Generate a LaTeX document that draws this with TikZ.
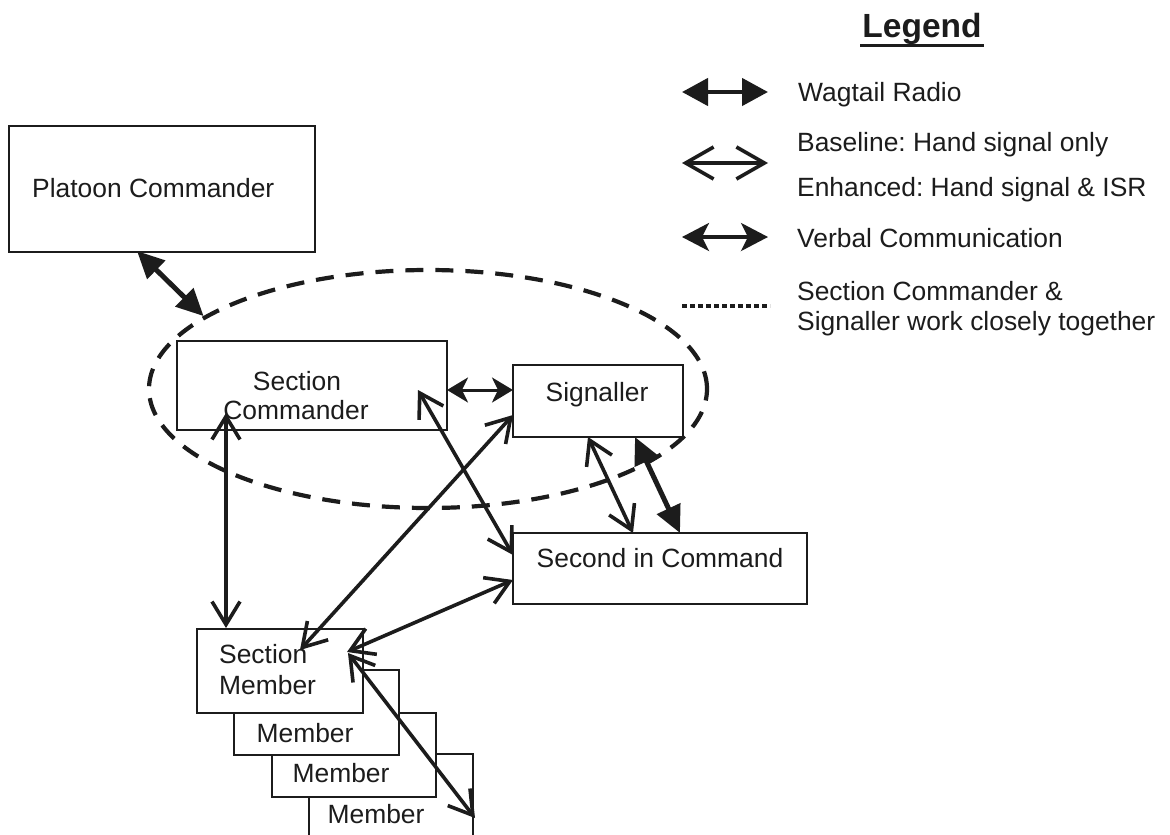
\documentclass[tikz,border=0pt]{standalone}
\usepackage{fontspec}
\setmainfont{Liberation Sans}
\usetikzlibrary{arrows.meta,shapes.geometric}
\definecolor{ink}{HTML}{1C1C1C}
\frenchspacing
\begin{document}
\begin{tikzpicture}[x=1pt,y=-1pt,
  box/.style={draw=ink,line width=2.2pt,fill=white,inner sep=0pt},
  lbl/.style={text=ink,font=\fontsize{26.4}{30}\selectfont,inner sep=0pt},
  wag/.style={draw=ink,line width=5pt,{Triangle[length=27pt,width=25pt]}-{Triangle[length=27pt,width=25pt]}},
  hand/.style={draw=ink,line width=3.6pt,{Straight Barb[length=23pt,width=28pt]}-{Straight Barb[length=23pt,width=28pt]}},
  verbal/.style={draw=ink,line width=3pt,{Stealth[length=21pt,width=25pt,inset=6pt]}-{Stealth[length=21pt,width=25pt,inset=6pt]}},
  wagleg/.style={draw=ink,line width=4.5pt,{Triangle[length=26pt,width=27pt]}-{Triangle[length=26pt,width=27pt]}},
  handleg/.style={draw=ink,line width=3.6pt,{Straight Barb[length=28pt,width=32pt]}-{Straight Barb[length=28pt,width=32pt]}},
  verballeg/.style={draw=ink,line width=3.4pt,{Stealth[length=27pt,width=28pt,inset=7pt]}-{Stealth[length=27pt,width=28pt,inset=7pt]}},
  grpline/.style={draw=ink,line width=4.2pt,dash pattern=on 18pt off 12pt},
  dotline/.style={draw=ink,line width=4pt,dash pattern=on 5pt off 3pt},
]
\useasboundingbox[fill=white] (0,0) rectangle (1170,835);

% group ellipse
\node[ellipse,grpline,minimum width=558pt,minimum height=238pt,inner sep=0pt] (grp) at (428,389) {};

% boxes
\node[box,minimum width=306pt,minimum height=126pt] (pc) at (162,189) {};
\node[lbl,anchor=base west] (pct) at (32,197) {Platoon Commander};

\node[box,minimum width=270pt,minimum height=89pt] (sc) at (312,385.5) {};
\node[lbl,anchor=base] (sct1) at (297,390) {Section};
\node[lbl,anchor=base] (sct2) at (296,419) {Commander};

\node[box,minimum width=170pt,minimum height=72pt] (sig) at (598,401) {};
\node[lbl,anchor=base] (sigt) at (597,401) {Signaller};

\node[box,minimum width=294pt,minimum height=71pt] (sic) at (660,568.5) {};
\node[lbl,anchor=base] (sict) at (660,567) {Second in Command};

\node[box,minimum width=164pt,minimum height=84pt] (m4) at (391,796) {};
\node[lbl,anchor=base] (m4t) at (376,823) {Member};
\node[box,minimum width=164pt,minimum height=84pt] (m3) at (354,755) {};
\node[lbl,anchor=base] (m3t) at (341,782) {Member};
\node[box,minimum width=165pt,minimum height=85pt] (m2) at (316.5,712.5) {};
\node[lbl,anchor=base] (m2t) at (305,742) {Member};
\node[box,minimum width=166pt,minimum height=84pt] (sm) at (280,671) {};
\node[lbl,anchor=base west] (smt1) at (219,663) {Section};
\node[lbl,anchor=base west] (smt2) at (219,694) {Member};

% connector end points
\coordinate (pcA) at (137,251);
\coordinate (scV1) at (447,390);
\coordinate (sigV1) at (513,390);
\coordinate (scH1) at (226,413);
\coordinate (smH1) at (226,628);
\coordinate (sigH1) at (513,415);
\coordinate (smH2) at (300,650);
\coordinate (scH2) at (418,390);
\coordinate (sicH1) at (513,555);
\coordinate (sicH2) at (513,580);
\coordinate (smH3) at (347,652);
\coordinate (smH4) at (348,653);
\coordinate (m4H) at (475,818);
\coordinate (sigH2) at (588,437);
\coordinate (sicH3) at (633,533);
\coordinate (sigW) at (635,437);
\coordinate (sicW) at (680,533);

% connectors
\draw[wag] (pcA) -- (grp.162.5);
\draw[verbal] (scV1) -- (sigV1);
\draw[hand] (scH1) -- (smH1);
\draw[hand] (sigH1) -- (smH2);
\draw[hand] (scH2) -- (sicH1);
\draw[hand] (sicH2) -- (smH3);
\draw[hand] (smH4) -- (m4H);
\draw[hand] (sigH2) -- (sicH3);
\draw[wag] (sigW) -- (sicW);

% legend
\node[text=ink,font=\bfseries\fontsize{33.5}{38}\selectfont,anchor=base,inner sep=0pt] (leg) at (922,37) {Legend};
\draw[ink,line width=3pt] ([xshift=-2pt,yshift=-8pt]leg.base west) -- ([xshift=2pt,yshift=-8pt]leg.base east);

\coordinate (lw1) at (682,92);  \coordinate (lw2) at (768,92);
\coordinate (lh1) at (682,163); \coordinate (lh2) at (768,163);
\coordinate (lv1) at (682,237); \coordinate (lv2) at (768,237);
\coordinate (ld1) at (682,306); \coordinate (ld2) at (770,306);
\draw[wagleg] (lw1) -- (lw2);
\draw[handleg] (lh1) -- (lh2);
\draw[verballeg] (lv1) -- (lv2);
\draw[dotline] (ld1) -- (ld2);

\node[lbl,anchor=base west] (lt1) at (798,101) {Wagtail Radio};
\node[lbl,anchor=base west] (lt2) at (797,151) {Baseline: Hand signal only};
\node[lbl,anchor=base west] (lt3) at (797,196) {Enhanced: Hand signal \& ISR};
\node[lbl,anchor=base west] (lt4) at (797,247) {Verbal Communication};
\node[lbl,anchor=base west] (lt5) at (797,300) {Section Commander \&};
\node[lbl,anchor=base west] (lt6) at (797,330) {Signaller work closely together};
\end{tikzpicture}
\end{document}
